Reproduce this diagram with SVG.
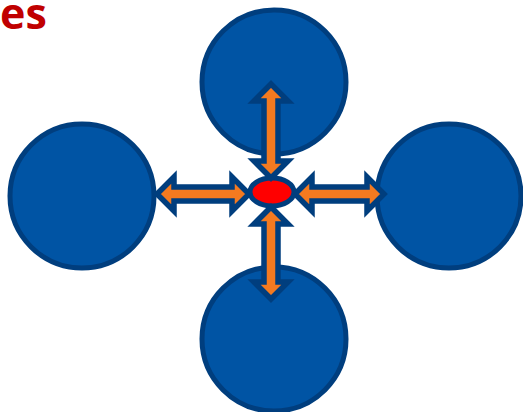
<svg xmlns="http://www.w3.org/2000/svg" width="523" height="412" viewBox="0 0 523 412">
<style>
.node{fill:#0054A4;stroke:#003E7E;stroke-width:5}
.hub{fill:#FF0000;stroke:#003E7E;stroke-width:5}
.arr{fill:#F47A20;stroke:#003E7E;stroke-width:5.5;stroke-linejoin:miter}
.t{font-family:"Open Sans","Liberation Sans",sans-serif;font-weight:bold;font-size:43px;fill:#C00000}
</style>
<rect width="523" height="412" fill="#fff"/>
<text class="t" x="0" y="29">es</text>
<g id="node-top"><circle class="node" cx="274" cy="82" r="72"/></g>
<g id="node-left"><circle class="node" cx="82" cy="196" r="72"/></g>
<g id="node-right"><circle class="node" cx="449" cy="196" r="72"/></g>
<g id="node-bottom"><circle class="node" cx="274" cy="339" r="72"/></g>
<g id="node-hub"><ellipse class="hub" cx="272" cy="192" rx="22" ry="14"/></g>
<g id="connectors">
<path class="arr" d="M157,194 L174,177 L174,187 L232,187 L232,177 L249,194 L232,211 L232,201 L174,201 L174,211 Z"/>
<path class="arr" d="M295,194 L312,177 L312,187 L367,187 L367,177 L384,194 L367,211 L367,201 L312,201 L312,211 Z"/>
<path class="arr" d="M271,84 L288,101 L278,101 L278,161 L288,161 L271,178 L254,161 L264,161 L264,101 L254,101 Z"/>
<path class="arr" d="M271,207 L288,224 L278,224 L278,282 L288,282 L271,299 L254,282 L264,282 L264,224 L254,224 Z"/>
</g>
</svg>
